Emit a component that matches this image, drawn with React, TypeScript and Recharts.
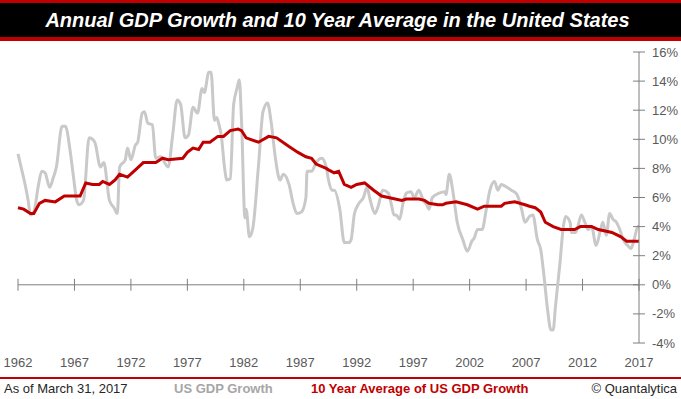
import React from "react";
import { LineChart, Line, XAxis, YAxis, ReferenceLine } from "recharts";

// US nominal GDP growth (YoY %)
const gdpYears = [
  1962.0, 1962.3, 1962.6, 1962.9, 1963.1, 1963.4, 1963.8, 1964.1, 1964.4, 1964.8,
  1965.1, 1965.4, 1965.9, 1966.2, 1966.6, 1966.9, 1967.2, 1967.4, 1967.8, 1968.3,
  1968.8, 1969.3, 1969.6, 1970.1, 1970.5, 1970.8, 1971.0, 1971.5, 1971.7, 1972.0,
  1972.4, 1972.6, 1973.0, 1973.2, 1973.5, 1973.9, 1974.2, 1974.6, 1975.3, 1975.7,
  1976.1, 1976.4, 1976.8, 1977.1, 1977.5, 1977.9, 1978.3, 1978.5, 1978.9, 1979.1,
  1979.4, 1979.6, 1979.8, 1980.0, 1980.3, 1980.5, 1980.8, 1981.1, 1981.4, 1981.6,
  1981.8, 1982.1, 1982.2, 1982.5, 1982.8, 1983.3, 1983.7, 1984.1, 1984.4, 1984.8,
  1985.2, 1985.5, 1986.0, 1986.4, 1986.7, 1987.1, 1987.5, 1987.6, 1988.0, 1988.4,
  1988.9, 1989.3, 1989.5, 1989.8, 1990.0, 1990.5, 1990.9, 1991.3, 1991.5, 1991.8,
  1992.2, 1992.6, 1992.9, 1993.2, 1993.6, 1993.9, 1994.3, 1994.8, 1995.1, 1995.3,
  1995.5, 1995.8, 1996.1, 1996.4, 1996.8, 1997.1, 1997.5, 1997.9, 1998.2, 1998.4,
  1998.7, 1999.3, 1999.8, 1999.9, 2000.2, 2000.5, 2000.9, 2001.4, 2001.8, 2002.2,
  2002.4, 2002.7, 2003.1, 2003.5, 2003.8, 2004.2, 2004.5, 2004.8, 2005.3, 2005.7,
  2006.2, 2006.6, 2006.9, 2007.3, 2007.6, 2008.0, 2008.3, 2008.6, 2008.9, 2009.2,
  2009.4, 2009.6, 2010.0, 2010.3, 2010.5, 2010.9, 2011.0, 2011.4, 2011.9, 2012.2,
  2012.5, 2012.8, 2013.2, 2013.6, 2013.8, 2014.1, 2014.4, 2014.7, 2015.0, 2015.3,
  2015.6, 2016.0, 2016.3, 2016.6, 2016.9, 2017.0,
];
const gdpValues = [
  9.0, 8.0, 7.0, 5.8, 4.8, 5.0, 6.8, 7.8, 7.7, 6.7,
  7.3, 8.1, 10.9, 10.9, 9.3, 7.5, 5.8, 5.5, 5.8, 10.1,
  9.8, 8.1, 8.4, 5.8, 5.3, 4.9, 8.1, 8.6, 9.4, 8.6,
  9.6, 9.8, 11.8, 11.9, 11.1, 11.0, 8.7, 8.8, 8.1, 10.3,
  12.7, 12.4, 10.1, 10.3, 12.2, 11.8, 13.5, 13.2, 14.6, 14.6,
  11.3, 11.5, 11.0, 10.3, 8.0, 7.2, 7.3, 12.4, 13.5, 14.1,
  11.2, 4.6, 5.2, 3.3, 3.9, 8.2, 11.9, 12.5, 11.3, 8.7,
  7.2, 7.6, 6.9, 5.5, 4.9, 5.0, 6.0, 7.8, 7.8, 8.4,
  8.7, 8.1, 7.2, 6.5, 6.5, 5.2, 2.9, 2.9, 3.1, 4.9,
  5.6, 6.0, 6.7, 5.8, 4.9, 5.4, 6.5, 6.3, 5.4, 4.8,
  4.8, 4.5, 5.6, 6.3, 6.4, 6.0, 6.5, 5.8, 5.5, 5.2,
  6.0, 6.3, 6.4, 6.2, 7.6, 6.5, 4.3, 3.1, 2.3, 3.0,
  3.2, 3.8, 3.8, 5.3, 6.5, 7.1, 6.5, 6.9, 6.7, 6.5,
  6.2, 5.2, 4.3, 4.7, 4.8, 3.1, 2.4, 0.5, -1.7, -3.1,
  -3.1, -1.5, 1.5, 4.0, 4.7, 4.3, 3.6, 3.6, 4.8, 4.3,
  3.8, 4.0, 2.7, 3.8, 4.3, 3.4, 4.9, 4.5, 4.3, 3.8,
  3.1, 2.7, 2.5, 3.2, 4.0, 4.0,
];

// 10 year average of US GDP growth
const avgYears = [
  1962.0, 1962.5, 1963.1, 1963.4, 1963.9, 1964.4, 1965.3, 1966.1, 1967.5, 1968.0,
  1968.6, 1969.2, 1969.5, 1970.1, 1970.6, 1971.0, 1971.7, 1972.4, 1973.1, 1974.2,
  1974.8, 1975.3, 1976.6, 1977.0, 1977.5, 1978.0, 1978.4, 1979.0, 1979.7, 1980.2,
  1980.8, 1981.5, 1981.8, 1982.2, 1983.3, 1984.2, 1984.9, 1986.0, 1986.8, 1987.5,
  1988.0, 1988.4, 1989.3, 1989.5, 1990.0, 1990.4, 1990.9, 1991.5, 1992.0, 1992.7,
  1993.5, 1994.2, 1994.8, 1996.0, 1996.4, 1997.5, 1998.0, 1998.4, 1999.2, 1999.6,
  1999.9, 2000.8, 2001.8, 2002.7, 2003.3, 2004.8, 2005.1, 2006.0, 2006.9, 2007.3,
  2007.8, 2008.3, 2008.7, 2009.4, 2010.1, 2011.3, 2011.8, 2012.8, 2013.4, 2014.6,
  2015.4, 2015.9, 2017.0,
];
const avgValues = [
  5.3, 5.2, 4.9, 4.9, 5.6, 5.8, 5.7, 6.1, 6.1, 7.0,
  6.9, 6.9, 7.1, 6.9, 7.2, 7.6, 7.4, 7.9, 8.4, 8.4,
  8.7, 8.6, 8.7, 9.1, 9.4, 9.3, 9.8, 9.8, 10.2, 10.2,
  10.6, 10.7, 10.6, 10.1, 9.8, 10.2, 10.1, 9.5, 9.1, 8.8,
  8.7, 8.3, 8.0, 7.9, 7.7, 7.8, 6.9, 6.7, 6.9, 7.0,
  6.5, 6.1, 6.0, 5.8, 5.9, 5.9, 5.8, 5.6, 5.5, 5.5,
  5.6, 5.7, 5.5, 5.2, 5.4, 5.4, 5.6, 5.7, 5.5, 5.4,
  5.3, 5.0, 4.3, 4.0, 3.8, 3.8, 4.0, 4.0, 3.8, 3.6,
  3.3, 3.0, 3.0,
];

const yearTicks = [1962, 1967, 1972, 1977, 1982, 1987, 1992, 1997, 2002, 2007, 2012, 2017];
const pctTicks = [-4, -2, 0, 2, 4, 6, 8, 10, 12, 14, 16];

const gdpData = gdpYears.map((t, i) => ({ t, v: gdpValues[i] }));
const avgData = avgYears.map((t, i) => ({ t, v: avgValues[i] }));

const FONT = "'Liberation Sans', Arial, sans-serif";
const AXIS = "#7f7f7f";
const LABEL = "#595959";
const RED = "#c00000";
const GREY = "#c9c9c9";

function PctTick(props: any) {
  const { x, y, payload } = props;
  return (
    <g>
      <line x1={x - 6} x2={x + 6} y1={y} y2={y} stroke={AXIS} />
      <text x={x + 13} y={y} dy="0.35em" fill={LABEL} fontSize={13} fontFamily={FONT}>
        {payload.value}%
      </text>
    </g>
  );
}

export default function App() {
  return (
    <div style={{ position: "absolute", left: 0, top: 0, width: 681, height: 399, background: "#fff", overflow: "hidden" }}>
      <div
        style={{
          position: "absolute", left: 0, top: 0, width: 681, height: 41, boxSizing: "border-box",
          background: "#000", borderTop: `3px solid ${RED}`, borderBottom: `4px solid ${RED}`,
          color: "#fff", fontFamily: FONT, fontWeight: "bold", fontStyle: "italic", fontSize: 20,
          textAlign: "center", lineHeight: "34px", paddingRight: 6,
        }}
      >
        Annual GDP Growth and 10 Year Average in the United States
      </div>

      <div style={{ position: "absolute", left: 0, top: 0 }}>
        <LineChart width={681} height={372} margin={{ top: 52, right: 0, left: 18, bottom: 9 }}>
          <XAxis
            dataKey="t"
            type="number"
            domain={[1962, 2017]}
            ticks={yearTicks}
            interval={0}
            axisLine={false}
            tickLine={false}
            tickMargin={9}
            height={20}
            tick={{ fill: LABEL, fontSize: 13, fontFamily: FONT }}
            allowDuplicatedCategory={false}
          />
          <YAxis
            orientation="right"
            domain={[-4, 16]}
            ticks={pctTicks}
            interval={0}
            width={42}
            axisLine={{ stroke: AXIS }}
            tickLine={false}
            tickSize={0}
            tickMargin={0}
            tick={<PctTick />}
          />
          <ReferenceLine y={0} stroke={AXIS} />
          {yearTicks.map((yr) => (
            <ReferenceLine
              key={yr}
              segment={[{ x: yr, y: -0.41 }, { x: yr, y: 0.41 }]}
              stroke={AXIS}
            />
          ))}
          <Line
            data={gdpData}
            dataKey="v"
            type="monotone"
            stroke={GREY}
            strokeWidth={3}
            dot={false}
            isAnimationActive={false}
          />
          <Line
            data={avgData}
            dataKey="v"
            type="linear"
            stroke={RED}
            strokeWidth={3}
            dot={false}
            isAnimationActive={false}
          />
        </LineChart>
      </div>

      <div style={{ position: "absolute", left: 0, top: 377, width: 681, height: 2, background: RED }} />
      <div style={{ position: "absolute", left: 0, top: 380, width: 681, height: 18, fontFamily: FONT, fontSize: 13, lineHeight: "18px" }}>
        <span style={{ position: "absolute", left: 4, color: "#262626" }}>As of March 31, 2017</span>
        <span style={{ position: "absolute", left: 174, color: "#a6a6a6", fontWeight: "bold" }}>US GDP Growth</span>
        <span style={{ position: "absolute", left: 311, color: RED, fontWeight: "bold" }}>10 Year Average of US GDP Growth</span>
        <span style={{ position: "absolute", right: 4, color: "#262626" }}>© Quantalytica</span>
      </div>
    </div>
  );
}
